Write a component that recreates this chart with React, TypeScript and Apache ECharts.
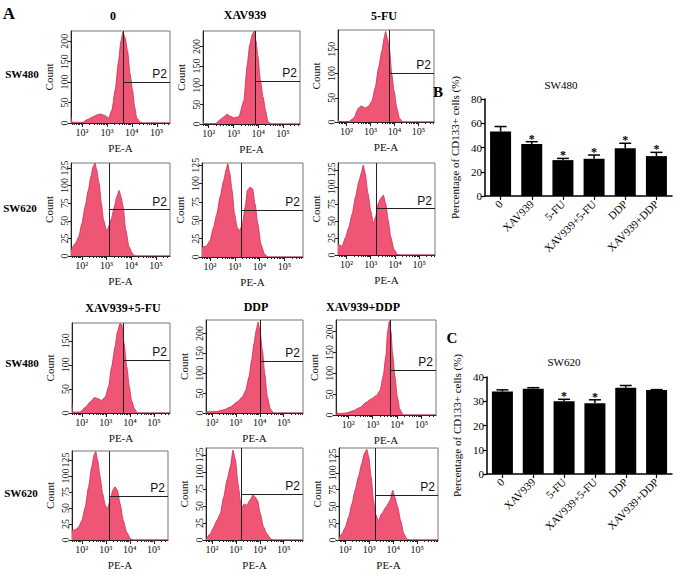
import React, { useEffect, useRef } from "react";
import * as echarts from "echarts";

// ---------- data ----------
const cellLines = ["SW480", "SW620"];
const treatments = ["0", "XAV939", "5-FU", "XAV939+5-FU", "DDP", "XAV939+DDP"];

// flow histograms: [log10(PE-A), count]
const h0_480 = [[1.56,15],[1.6,2],[2.0,1],[2.2,8],[2.47,16],[2.6,20],[2.73,22],[2.93,18],[3.07,12],[3.2,32],[3.33,80],[3.47,152],[3.56,200],[3.64,222],[3.73,208],[3.83,176],[3.93,120],[4.03,80],[4.11,40],[4.2,12],[4.33,2],[4.47,0],[5.53,0]];
const hX_480 = [[1.77,10],[1.8,1],[2.27,1],[2.47,11],[2.6,18],[2.74,25],[2.88,20],[3.01,16],[3.22,19],[3.42,60],[3.55,149],[3.66,205],[3.77,232],[3.84,240],[3.91,215],[3.99,175],[4.09,113],[4.2,69],[4.3,34],[4.39,7],[4.5,0],[5.69,0]];
const h5_480 = [[1.65,6],[1.7,1],[2.1,1],[2.3,8],[2.51,29],[2.61,33],[2.79,29],[2.93,33],[3.06,43],[3.2,71],[3.34,112],[3.48,147],[3.58,175],[3.63,187],[3.72,171],[3.8,147],[3.89,99],[3.99,64],[4.1,29],[4.21,8],[4.35,0],[5.65,0]];
const h0_620 = [[1.56,8],[1.74,18],[1.87,27],[2.0,46],[2.13,70],[2.26,93],[2.36,112],[2.46,127],[2.53,132],[2.59,124],[2.7,103],[2.79,75],[2.88,51],[2.99,37],[3.05,39],[3.18,51],[3.32,70],[3.41,84],[3.51,93],[3.59,84],[3.67,70],[3.78,37],[3.91,13],[4.04,4],[4.17,0],[5.57,0]];
const hX_620 = [[1.68,13],[1.86,15],[2.0,22],[2.14,40],[2.28,59],[2.41,82],[2.55,104],[2.66,120],[2.72,127],[2.8,114],[2.89,91],[2.99,59],[3.1,40],[3.2,36],[3.31,45],[3.42,68],[3.51,91],[3.62,95],[3.72,93],[3.82,72],[3.93,45],[4.06,17],[4.2,4],[4.34,0],[5.75,0]];
const h5_620 = [[1.65,16],[1.82,13],[1.96,26],[2.1,41],[2.24,61],[2.37,85],[2.51,108],[2.61,120],[2.69,132],[2.77,120],[2.89,90],[3.0,65],[3.11,46],[3.2,56],[3.3,75],[3.41,83],[3.52,88],[3.62,75],[3.72,51],[3.83,26],[3.96,8],[4.1,1],[4.2,0],[5.65,0]];
const hX5_480 = [[1.59,19],[1.62,2],[1.93,2],[2.14,12],[2.35,23],[2.53,32],[2.65,30],[2.83,26],[2.97,33],[3.11,54],[3.24,96],[3.38,137],[3.48,169],[3.59,186],[3.67,183],[3.76,144],[3.87,96],[3.98,54],[4.07,26],[4.19,9],[4.31,0],[5.67,0]];
const hD_480 = [[1.75,3],[2.21,4],[2.49,8],[2.77,15],[3.06,28],[3.27,40],[3.41,57],[3.55,91],[3.66,133],[3.76,175],[3.85,208],[3.93,229],[4.01,208],[4.11,158],[4.21,99],[4.32,40],[4.44,11],[4.58,0],[5.81,0]];
const hXD_480 = [[1.52,10],[1.59,3],[1.93,5],[2.2,10],[2.48,18],[2.75,31],[2.95,39],[3.16,47],[3.3,59],[3.43,93],[3.54,142],[3.61,200],[3.68,225],[3.75,200],[3.81,150],[3.91,93],[4.01,43],[4.11,14],[4.25,0],[5.59,0]];
const hX5_620 = [[1.59,15],[1.72,16],[1.86,20],[2.0,30],[2.14,51],[2.28,83],[2.41,114],[2.51,133],[2.58,138],[2.66,125],[2.76,99],[2.87,72],[2.98,54],[3.06,49],[3.18,62],[3.29,78],[3.38,83],[3.48,78],[3.59,57],[3.73,30],[3.87,12],[4.03,2],[4.14,0],[5.59,0]];
const hD_620 = [[1.75,1],[1.93,9],[2.07,19],[2.21,29],[2.35,39],[2.49,63],[2.63,88],[2.77,108],[2.88,132],[2.98,118],[3.09,83],[3.19,58],[3.26,48],[3.35,53],[3.46,51],[3.58,58],[3.72,66],[3.81,63],[3.91,58],[4.02,39],[4.16,19],[4.3,9],[4.47,1],[4.6,0],[5.81,0]];
const hXD_620 = [[1.74,3],[1.86,9],[2.0,19],[2.14,34],[2.28,54],[2.41,74],[2.55,94],[2.69,114],[2.8,129],[2.9,135],[2.98,124],[3.08,94],[3.18,59],[3.26,39],[3.38,29],[3.52,39],[3.7,49],[3.87,59],[3.98,74],[4.07,64],[4.19,49],[4.31,29],[4.45,9],[4.59,1],[4.7,0],[5.87,0]];

// P2 gate: x (log10 PE-A) and y (count) of the gate per panel
const gateX = [3.67, 3.88, 3.8, 3.09, 3.28, 3.23, 3.73, 4.0, 3.73, 3.15, 3.23, 3.26];
const gateY = [100, 110, 101, 66, 64, 68, 110, 131, 108, 69, 67, 67];

const histXTicks = [2, 3, 4, 5];
const histXTickLabels = ["10²", "10³", "10⁴", "10⁵"];
const sw480CountTicks = [0, 50, 100, 150, 200];
const sw620CountTicks = [0, 25, 50, 75, 100, 125];

// bar charts (% CD133+ cells)
const sw480Mean = [53.1, 42.9, 29.6, 30.7, 39.3, 32.9];
const sw480Upper = [57.3, 44.8, 31.0, 33.8, 43.5, 36.0];
const sw480Star = [0, 1, 1, 1, 1, 1];
const sw620Mean = [34.0, 35.2, 30.0, 29.2, 35.6, 34.6];
const sw620Upper = [34.7, 35.6, 30.8, 30.6, 36.5, 34.8];
const sw620Star = [0, 0, 1, 1, 0, 0];

// ---------- layout ----------
const SERIF = '"Liberation Serif", "DejaVu Serif", "Times New Roman", serif';
const SANS = '"Liberation Sans", Arial, sans-serif';
const FILL = "#ef5676";
const EDGE = "#cf2a50";

const panels = [
  { d: h0_480, t: 0, c: 0, box: [71, 31, 99, 92], x: [1.56, 5.53], ymax: 225 },
  { d: hX_480, t: 1, c: 0, box: [203, 31, 97, 93], x: [1.77, 5.69], ymax: 240 },
  { d: h5_480, t: 2, c: 0, box: [338, 30, 96, 92], x: [1.65, 5.65], ymax: 190 },
  { d: h0_620, t: 0, c: 1, box: [71, 163, 99, 93], x: [1.56, 5.57], ymax: 132 },
  { d: hX_620, t: 1, c: 1, box: [202, 163, 101, 94], x: [1.68, 5.75], ymax: 128 },
  { d: h5_620, t: 2, c: 1, box: [338, 163, 97, 92], x: [1.65, 5.65], ymax: 135 },
  { d: hX5_480, t: 3, c: 0, box: [72, 323, 98, 90], x: [1.59, 5.67], ymax: 187 },
  { d: hD_480, t: 4, c: 0, box: [206, 320, 97, 93], x: [1.75, 5.81], ymax: 234 },
  { d: hXD_480, t: 5, c: 0, box: [336, 320, 100, 95], x: [1.5, 5.59], ymax: 228 },
  { d: hX5_620, t: 3, c: 1, box: [72, 451, 96, 89], x: [1.59, 5.59], ymax: 139 },
  { d: hD_620, t: 4, c: 1, box: [206, 448, 97, 92], x: [1.75, 5.81], ymax: 135 },
  { d: hXD_620, t: 5, c: 1, box: [339, 448, 99, 92], x: [1.74, 5.87], ymax: 137 },
];

function minorTicks(lo: number, hi: number) {
  const out: number[] = [];
  for (let n = 1; n <= 5; n++) {
    for (let k = 2; k <= 9; k++) {
      const v = n + Math.log10(k);
      if (v > lo && v < hi) out.push(v);
    }
  }
  return out;
}

function buildOption() {
  const grid: any[] = [];
  const xAxis: any[] = [];
  const yAxis: any[] = [];
  const series: any[] = [];
  const axisColor = "#222";

  panels.forEach((p, i) => {
    grid.push({
      left: p.box[0], top: p.box[1], width: p.box[2], height: p.box[3],
      show: true, borderColor: "#777", borderWidth: 1, backgroundColor: "transparent",
    });
    xAxis.push({
      gridIndex: i, type: "value", min: p.x[0], max: p.x[1], position: "bottom",
      name: "PE-A", nameLocation: "middle", nameGap: 19,
      nameTextStyle: { fontFamily: SERIF, fontSize: 11, color: "#111" },
      axisLine: { show: true, onZero: false, lineStyle: { color: axisColor, width: 1 } },
      axisTick: { show: true, length: 4, customValues: histXTicks, lineStyle: { color: axisColor } },
      axisLabel: {
        show: true, customValues: histXTicks, margin: 4,
        formatter: (v: number) => histXTickLabels[histXTicks.indexOf(Math.round(v))] ?? "",
        fontFamily: SERIF, fontSize: 10, color: "#111",
      },
      splitLine: { show: false },
    });
    xAxis.push({
      gridIndex: i, type: "value", min: p.x[0], max: p.x[1], position: "bottom",
      axisLine: { show: false },
      axisTick: { show: true, length: 2, customValues: minorTicks(p.x[0], p.x[1]), lineStyle: { color: axisColor } },
      axisLabel: { show: false },
      splitLine: { show: false },
    });
    const ticks = p.c === 0 ? sw480CountTicks : sw620CountTicks;
    yAxis.push({
      gridIndex: i, type: "value", min: 0, max: p.ymax,
      name: "Count", nameLocation: "middle", nameGap: 17,
      nameTextStyle: { fontFamily: SERIF, fontSize: 11, color: "#111" },
      axisLine: { show: true, onZero: false, lineStyle: { color: axisColor, width: 1 } },
      axisTick: { show: true, length: 3, customValues: ticks, lineStyle: { color: axisColor } },
      axisLabel: { rotate: 90, customValues: ticks, margin: 2, fontFamily: SERIF, fontSize: 10, color: "#111" },
      splitLine: { show: false },
    });
    series.push({
      type: "line", xAxisIndex: 2 * i, yAxisIndex: i, data: p.d, symbol: "none",
      smooth: 0.2, smoothMonotone: "x", clip: true,
      lineStyle: { color: EDGE, width: 0.8 },
      areaStyle: { color: FILL, opacity: 1 },
      markLine: {
        silent: true, symbol: ["none", "none"], animation: false,
        lineStyle: { color: "#222", width: 1, type: "solid" },
        label: {
          show: true, position: "insideEndTop", distance: [3, 2],
          formatter: (prm: any) => (prm.dataIndex === 1 ? "P2" : ""),
          fontFamily: SANS, fontSize: 12, color: "#111",
        },
        emphasis: { disabled: true },
        data: [
          [{ coord: [gateX[i], 0] }, { coord: [gateX[i], p.ymax] }],
          [{ coord: [gateX[i], gateY[i]] }, { coord: [p.x[1], gateY[i]] }],
        ],
      },
    });
  });

  // bar charts
  const bars = [
    { mean: sw480Mean, up: sw480Upper, star: sw480Star, box: [485, 99, 187, 97], max: 80, interval: 20 },
    { mean: sw620Mean, up: sw620Upper, star: sw620Star, box: [487, 377, 185, 97], max: 40, interval: 10 },
  ];
  bars.forEach((b, j) => {
    const gi = panels.length + j;
    grid.push({ left: b.box[0], top: b.box[1], width: b.box[2], height: b.box[3] });
    const xi = xAxis.length;
    xAxis.push({
      gridIndex: gi, type: "category", data: treatments,
      axisLine: { show: true, lineStyle: { color: "#000", width: 1.5 } },
      axisTick: { show: true, alignWithLabel: true, length: 4, lineStyle: { color: "#000", width: 1.2 } },
      axisLabel: { rotate: 45, interval: 0, margin: 6, fontFamily: SERIF, fontSize: 11, color: "#000" },
      splitLine: { show: false },
    });
    const yi = yAxis.length;
    yAxis.push({
      gridIndex: gi, type: "value", min: 0, max: b.max, interval: b.interval,
      name: "Percentage of CD133+ cells (%)", nameLocation: "middle", nameGap: 25,
      nameTextStyle: { fontFamily: SERIF, fontSize: 11, color: "#000" },
      axisLine: { show: true, lineStyle: { color: "#000", width: 1.5 } },
      axisTick: { show: true, length: 4, lineStyle: { color: "#000", width: 1.2 } },
      axisLabel: { margin: 3, fontFamily: SERIF, fontSize: 11, color: "#000" },
      splitLine: { show: false },
    });
    series.push({
      type: "bar", xAxisIndex: xi, yAxisIndex: yi, data: b.mean, barWidth: 21,
      itemStyle: { color: "#000" },
    });
    series.push({
      type: "custom", xAxisIndex: xi, yAxisIndex: yi,
      itemStyle: { color: "#000" },
      data: b.mean.map((m, k) => [k, m, b.up[k], b.star[k]]),
      encode: { x: 0, y: [1, 2] },
      renderItem: (params: any, api: any) => {
        const k = api.value(0);
        const p0 = api.coord([k, api.value(1)]);
        const p1 = api.coord([k, api.value(2)]);
        const children: any[] = [
          { type: "line", shape: { x1: p0[0], y1: p0[1], x2: p1[0], y2: p1[1] }, style: { stroke: "#000", lineWidth: 1.5 } },
          { type: "line", shape: { x1: p1[0] - 6, y1: p1[1], x2: p1[0] + 6, y2: p1[1] }, style: { stroke: "#000", lineWidth: 1.5 } },
        ];
        if (api.value(3)) {
          children.push({
            type: "text", x: p1[0], y: p1[1] + 3,
            style: { text: "*", fontSize: 12, fontWeight: "bold", fontFamily: SERIF, fill: "#000", align: "center", verticalAlign: "bottom" },
          });
        }
        return { type: "group", children };
      },
    });
  });

  const txt = (text: string, x: number, y: number, size: number, bold: boolean, family = SERIF) => ({
    type: "text", x, y,
    style: { text, fontSize: size, fontWeight: bold ? "bold" : "normal", fontFamily: family, fill: "#000", align: "center", verticalAlign: "middle" },
  });

  const graphic = [
    txt("A", 9, 13, 17, true),
    txt(treatments[0], 113, 16, 12, true),
    txt(treatments[1], 245, 15, 12, true),
    txt(treatments[2], 384, 16, 12, true),
    txt(treatments[3], 123, 308, 12, true),
    txt(treatments[4], 256, 307, 12, true),
    txt(treatments[5], 363, 307, 12, true),
    txt(cellLines[0], 22, 74, 11, true),
    txt(cellLines[1], 20, 208, 11, true),
    txt(cellLines[0], 22, 363, 11, true),
    txt(cellLines[1], 21, 493, 11, true),
    txt("B", 438, 92, 15, true),
    txt("C", 452, 338, 15, true),
    txt(cellLines[0], 561, 85, 11, false),
    txt(cellLines[1], 564, 362, 11, false),
  ];

  return { animation: false, backgroundColor: "#fff", grid, xAxis, yAxis, series, graphic };
}

export default function App() {
  const ref = useRef<HTMLDivElement>(null);
  useEffect(() => {
    if (!ref.current) return;
    const chart = echarts.init(ref.current, undefined, { renderer: "svg" });
    chart.setOption(buildOption() as any);
    return () => chart.dispose();
  }, []);
  return <div ref={ref} style={{ position: "absolute", left: 0, top: 0, width: 677, height: 575 }} />;
}
